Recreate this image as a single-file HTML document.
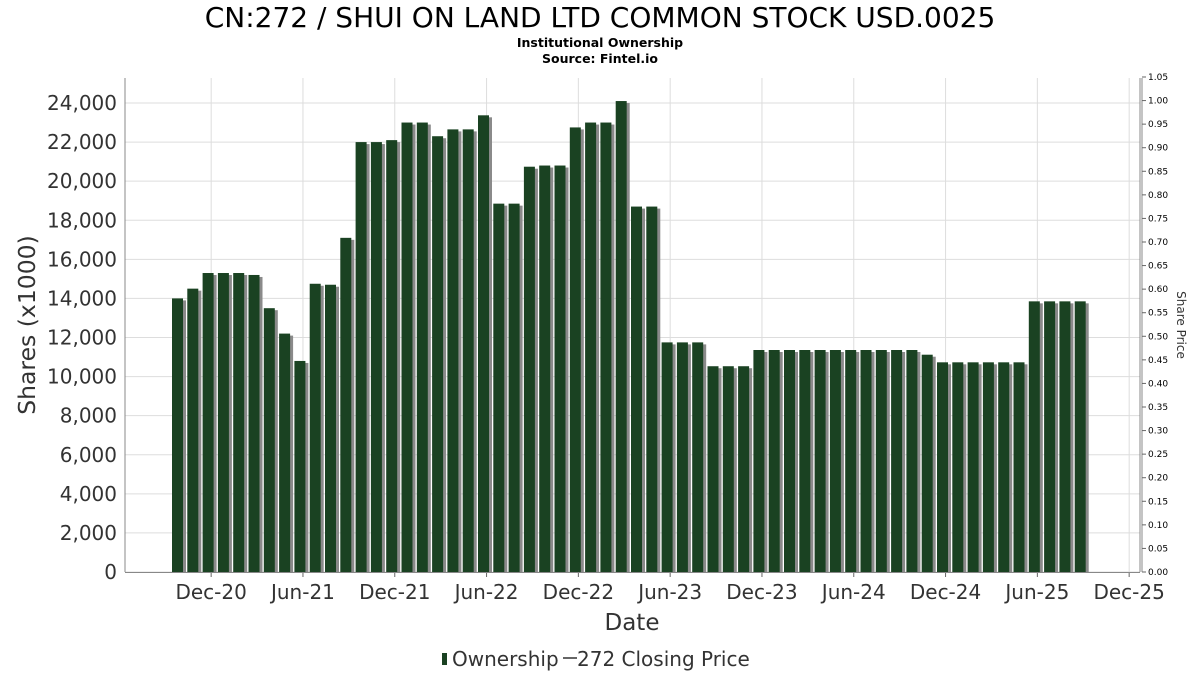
<!DOCTYPE html>
<html><head><meta charset="utf-8"><style>
body{margin:0;background:#fff;}
svg{display:block;font-family:"DejaVu Sans","Liberation Sans",sans-serif;}
</style></head><body>
<svg id="chart" width="1200" height="675" viewBox="0 0 1200 675">
<text x="600" y="27" text-anchor="middle" font-size="28" fill="#000">CN:272 / SHUI ON LAND LTD COMMON STOCK USD.0025</text>
<text x="600" y="47" text-anchor="middle" font-size="12.5" font-weight="bold">Institutional Ownership</text>
<text x="600" y="63" text-anchor="middle" font-size="12.5" font-weight="bold">Source: Fintel.io</text>
<g id="grid"></g>
<g id="bars"></g>
<g id="axes"></g>
<text transform="translate(35,325) rotate(-90)" text-anchor="middle" font-size="23.5" fill="#333">Shares (x1000)</text>
<text transform="translate(1177,325) rotate(90)" text-anchor="middle" font-size="12" fill="#333">Share Price</text>
<text x="632" y="630" text-anchor="middle" font-size="23" fill="#333">Date</text>
<g>
<rect x="442" y="653" width="5" height="12" fill="#1a4222"/>
<text x="452" y="666" font-size="20" fill="#333">Ownership</text>
<line x1="563" y1="658" x2="577" y2="658" stroke="#333" stroke-width="1.5"/>
<text x="577" y="666" font-size="20" fill="#333">272 Closing Price</text>
</g>
</svg>
<script>
const ownership = [14000,14500,15300,15300,15300,15200,13500,12200,10800,14750,14700,17100,22000,22000,22100,23000,23000,22300,22650,22650,23370,18850,18850,20740,20800,20800,22750,23000,23000,24100,
18700,18700,11750,11750,11750,10530,10530,10530,11360,11360,11360,11360,11360,11360,11360,11360,11360,11360,11360,11120,10730,10730,10730,10730,10730,10730,13850,13850,13850,13850];
const yTicks = [0,2000,4000,6000,8000,10000,12000,14000,16000,18000,20000,22000,24000];
const priceTicks = [0,0.05,0.10,0.15,0.20,0.25,0.30,0.35,0.40,0.45,0.50,0.55,0.60,0.65,0.70,0.75,0.80,0.85,0.90,0.95,1.00,1.05];
const xTickLabels = ["Dec-20","Jun-21","Dec-21","Jun-22","Dec-22","Jun-23","Dec-23","Jun-24","Dec-24","Jun-25","Dec-25"];
const xTickMonths = [2,8,14,20,26,32,38,44,50,56,62];

const NS="http://www.w3.org/2000/svg";
const L=125,R=1140,T=78,B=572;
const y=v=>B-v*(B-103)/24000;
const yp=v=>B-v*(B-77)/1.05;
const x=m=>177.5+(m+0.2)*15.3;
const xb=m=>177.5+m*15.3;
function mk(tag,attrs,parent){const e=document.createElementNS(NS,tag);for(const k in attrs)e.setAttribute(k,attrs[k]);parent.appendChild(e);return e;}
const grid=document.getElementById('grid'),bars=document.getElementById('bars'),axes=document.getElementById('axes');
mk('rect',{x:L,y:T,width:R-L,height:B-T,fill:'#fff'},grid);
yTicks.forEach(v=>{
  const ln=mk('line',{x1:L,x2:R,y1:y(v),y2:y(v),stroke:'#ddd'},grid);
  
  
  const t=mk('text',{x:L-8,y:y(v)+7,'text-anchor':'end','font-size':20,fill:'#333'},axes);
  t.textContent=v.toLocaleString('en-US');
  
  
});
xTickMonths.forEach((m,i)=>{
  const ln=mk('line',{x1:x(m),x2:x(m),y1:T,y2:B,stroke:'#ddd'},grid);
  
  
  mk('line',{x1:x(m),x2:x(m),y1:B+1,y2:B+5,stroke:'#666'},axes);
  const t=mk('text',{x:x(m),y:599,'text-anchor':'middle','font-size':20,fill:'#333'},axes);
  t.textContent=xTickLabels[i];
  
  
});
ownership.forEach((v,i)=>{
  const bx=xb(i)-5.5;
  const s=mk('rect',{x:bx+3,y:y(v)+2,width:11,height:B-y(v)-2,fill:'#8a8a8a'},bars);
  
  
  const r=mk('rect',{x:bx,y:y(v),width:11,height:B-y(v),fill:'#1a4222'},bars);
  
  
});
mk('line',{x1:L,x2:L,y1:T,y2:B,stroke:'#888'},axes);
mk('line',{x1:L,x2:R,y1:B+0.5,y2:B+0.5,stroke:'#888'},axes);
mk('line',{x1:R,x2:R,y1:T,y2:B,stroke:'#888'},axes);
mk('line',{x1:R+2,x2:R+2,y1:T,y2:B,stroke:'#888'},axes);
priceTicks.forEach(v=>{
  mk('line',{x1:R+2,x2:R+6,y1:yp(v),y2:yp(v),stroke:'#666'},axes);
  const t=mk('text',{x:R+8,y:yp(v)+3,'font-size':9,fill:'#000'},axes);
  t.textContent=v.toFixed(2);
  
  
});
</script>
</body></html>
